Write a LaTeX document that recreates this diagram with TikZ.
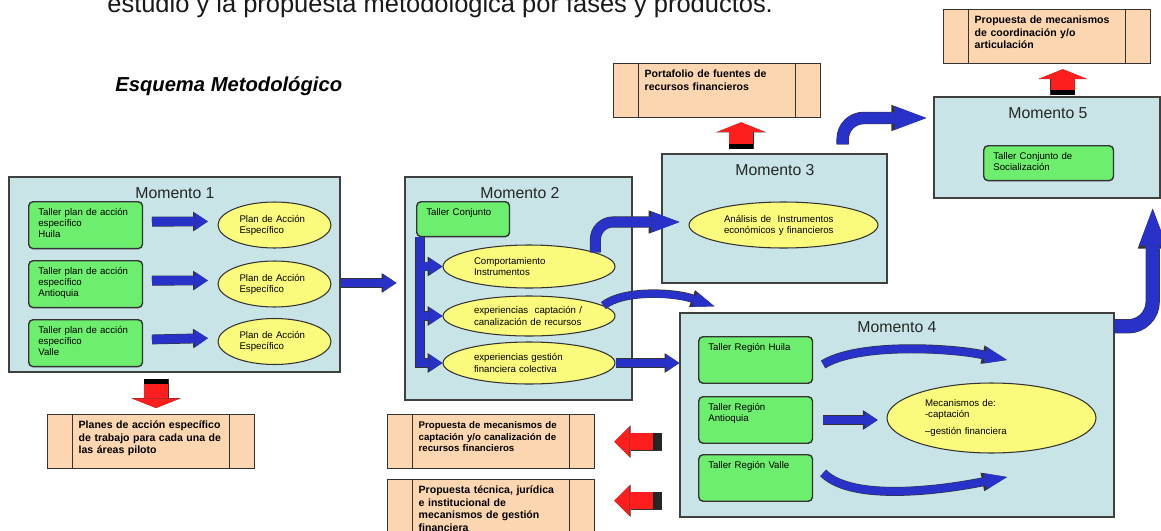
\documentclass[tikz,border=0pt]{standalone}
\usepackage{fontspec}
\setmainfont{Liberation Sans}
\usetikzlibrary{shapes.geometric,arrows.meta,calc}

\definecolor{fondo}{RGB}{200,228,230}
\definecolor{verde}{RGB}{110,238,110}
\definecolor{amarillo}{RGB}{250,250,125}
\definecolor{naranja}{RGB}{252,214,176}
\definecolor{azulf}{RGB}{40,50,200}
\definecolor{rojof}{RGB}{255,30,30}

\newcommand{\txtchico}{\fontsize{5.5pt}{6.3pt}\selectfont}
\newcommand{\txtprod}{\fontsize{6pt}{7.1pt}\selectfont\bfseries}
\newcommand{\txtmom}{\fontsize{9pt}{10pt}\selectfont}

\tikzset{
    momento/.style={draw=black!75, fill=fondo, line width=0.8pt},
    titulo/.style={font=\txtmom, text=black!85, anchor=base, inner sep=0pt},
    taller/.style={draw=black!80, fill=verde, rounded corners=2.5pt, line width=0.8pt,
        font=\txtchico, align=left, anchor=north west, inner xsep=5.5pt, inner ysep=4pt,
        text height=4pt},
    plan/.style={ellipse, draw=black!80, fill=amarillo, line width=0.6pt,
        font=\txtchico, align=left, inner sep=1pt},
    producto/.style={draw=black!80, fill=naranja, line width=0.8pt, font=\txtprod,
        align=left, anchor=north west, text width=2.9cm, inner xsep=0.62cm,
        inner ysep=3pt, text height=5pt, text depth=19.7pt,
        path picture={\draw[black!80, line width=0.8pt]
            ([xshift=0.5cm]path picture bounding box.north west) -- ([xshift=0.5cm]path picture bounding box.south west)
            ([xshift=-0.5cm]path picture bounding box.north east) -- ([xshift=-0.5cm]path picture bounding box.south east);}},
    flecha/.style={azulf, line width=#1,
        -{Triangle[width=0pt 2, length=0pt 1.5, line width=0pt]},
        preaction={draw=black!80, line width=#1+0.6pt,
            -{Triangle[width=0pt 2, length=0pt 1.5, line width=0pt]}}},
    flecha/.default=5pt,
    curva/.style={azulf, line width=#1,
        -{Triangle[width=0pt 2.1, length=0pt 2.8, line width=0pt]},
        preaction={draw=black!80, line width=#1+0.6pt,
            -{Triangle[width=0pt 2.1, length=0pt 2.8, line width=0pt]}}},
    roja/.style={rojof, line width=13.6pt,
        {Rectangle[length=0pt 0.22, width=0pt 1, line width=0pt, color=black]}-{Triangle[width=0pt 2, length=0pt 0.4, line width=0pt]},
        preaction={draw=black!80, line width=14.2pt,
            -{Triangle[width=0pt 2, length=0pt 0.4, line width=0pt]}}},
    rojaizq/.style={rojof, line width=9.7pt,
        {Rectangle[length=0pt 0.55, width=0pt 1, line width=0pt, color=black!85]}-{Triangle[width=0pt 1.8, length=0pt 0.9, line width=0pt]},
        preaction={draw=black!80, line width=10.3pt,
            -{Triangle[width=0pt 1.8, length=0pt 0.9, line width=0pt]}}}
}

\begin{document}
\begin{tikzpicture}[x=0.02cm, y=-0.02cm]
    \useasboundingbox (0,0) rectangle (1161,531);
    \clip (0,0) rectangle (1161,531);

    \node[anchor=base west, inner sep=0pt, font=\fontsize{14.5pt}{17pt}\selectfont, text=black!90](cab) at (107,12) {estudio y la propuesta metodológica por fases y productos.};
    \node[anchor=base west, inner sep=0pt, font=\fontsize{11.5pt}{13pt}\selectfont\bfseries\itshape](esq) at (115,91) {Esquema Metodológico};

    \node[momento, minimum width=6.62cm, minimum height=3.9cm](m1) at (174.5,274.5) {};
    \node[momento, minimum width=4.54cm, minimum height=4.46cm](m2) at (518.5,288.5) {};
    \node[momento, minimum width=4.5cm, minimum height=2.58cm](m3) at (774.5,218.5) {};
    \node[momento, minimum width=8.68cm, minimum height=4.08cm](m4) at (897,415) {};
    \node[momento, minimum width=4.52cm, minimum height=2.02cm](m5) at (1047,147.5) {};

    \node[titulo](m1t) at (175,198) {Momento 1};
    \node[titulo](m2t) at (520,198) {Momento 2};
    \node[titulo](m3t) at (775,175) {Momento 3};
    \node[titulo](m4t) at (897,332) {Momento 4};
    \node[titulo](m5t) at (1048,118) {Momento 5};

    \node[taller, text width=1.89cm, text depth=14.7pt](t1) at (28,201) {Taller plan de acción\\específico\\Huila};
    \node[taller, text width=1.89cm, text depth=14.7pt](t2) at (28,260) {Taller plan de acción\\específico\\Antioquia};
    \node[taller, text width=1.89cm, text depth=14.7pt](t3) at (28,319) {Taller plan de acción\\específico\\Valle};
    \node[plan, minimum width=2.26cm, minimum height=0.92cm, text width=1.4cm](p1) at (274.5,225) {Plan de Acción\\Específico};
    \node[plan, minimum width=2.26cm, minimum height=0.92cm, text width=1.4cm](p2) at (274.5,284) {Plan de Acción\\Específico};
    \node[plan, minimum width=2.26cm, minimum height=0.92cm, text width=1.4cm](p3) at (274.5,341.5) {Plan de Acción\\Específico};

    \node[taller, text width=1.47cm, text depth=7.9pt](tc) at (416,201) {Taller Conjunto};
    \node[plan, minimum width=3.44cm, minimum height=0.86cm, text width=2.2cm](e1) at (529,266.5) {Comportamiento\\Instrumentos};
    \node[plan, minimum width=3.44cm, minimum height=0.8cm, text width=2.2cm](e2) at (529,316) {experiencias~ captación /\\canalización de recursos};
    \node[plan, minimum width=3.44cm, minimum height=0.84cm, text width=2.2cm](e3) at (529,363) {experiencias gestión\\financiera colectiva};

    \node[plan, minimum width=3.78cm, minimum height=0.92cm, text width=2.38cm](an) at (783.5,225) {Análisis de~ Instrumentos\\económicos y financieros};

    \node[taller, text width=1.89cm, text depth=14.5pt](r1) at (698,336) {Taller Región Huila};
    \node[taller, text width=1.89cm, text depth=14.5pt](r2) at (698,396) {Taller Región\\Antioquia};
    \node[taller, text width=1.89cm, text depth=14.5pt](r3) at (698,454) {Taller Región Valle};
    \node[plan, minimum width=4.18cm, minimum height=1.4cm, text width=2.66cm](mec) at (991.5,418) {Mecanismos de:\\-captación\\[3pt]–gestión financiera};

    \node[taller, text width=2.21cm, text depth=7.9pt](ts) at (983,145) {Taller Conjunto de\\Socialización};

    \node[producto](pl) at (47,414) {Planes de acción específico\\de trabajo para cada una de\\las áreas piloto};
    \node[producto](pf) at (613,63) {Portafolio de fuentes de\\recursos financieros};
    \node[producto](pc) at (943,9) {Propuesta de mecanismos\\de coordinación y/o\\articulación};
    \node[producto, font=\fontsize{5.5pt}{6.5pt}\selectfont\bfseries](b1) at (387,414) {Propuesta de mecanismos de\\captación y/o canalización de\\recursos financieros};
    \node[producto](b2) at (387,479) {Propuesta técnica, jurídica\\e institucional de\\mecanismos de gestión\\financiera};

    \coordinate(h1) at (1007,360);
    \coordinate(h2) at (1007,477);

    \draw[flecha, shorten <=5pt, shorten >=5.5pt] ([yshift=2pt]t1.east) -- ([yshift=2pt]p1.west);
    \draw[flecha, shorten <=5pt, shorten >=5.5pt] ([yshift=2pt]t2.east) -- ([yshift=2pt]p2.west);
    \draw[flecha, shorten <=5pt, shorten >=5.5pt] ([yshift=2pt]t3.east) -- ([yshift=2pt]p3.west);
    \draw[flecha, shorten >=4.5pt] ([yshift=-4.8pt]m1.east) -- ([yshift=-4.8pt]m1.east -| m2.west);

    \draw[flecha] ([xshift=2.3pt]tc.south west) |- (e3.west);
    \draw[flecha] ([xshift=4.8pt]tc.south west |- e1.west) -- (e1.west);
    \draw[flecha] ([xshift=4.8pt]tc.south west |- e2.west) -- (e2.west);
    \draw[flecha] (e3.east) -- (e3.east -| m4.west);
    \draw[curva=5.7pt, rounded corners=10pt] (e1.12) |- ($(an.west)+(-9,-3)$);
    \draw[curva=4.2pt] (e2.8) .. controls +(20,-16) and +(-40,-14) .. ($(m4.north west)+(35,-6)$);

    \draw[curva=4.5pt] ($(r1.east)+(10,4.5)$) .. controls +(35,-22) and +(-55,-12) .. (h1);
    \draw[flecha, shorten <=5.7pt, shorten >=5pt] (r2.east) -- (r2.east -| mec.west);
    \draw[curva=4.5pt] ($(r3.east)+(10,-5)$) .. controls +(30,30) and +(-60,12) .. (h2);

    \draw[curva=6.5pt, rounded corners=12pt] ($(m3.north east)+(-45,-9)$) |- ($(m5.west)+(-7,-29.5)$);
    \draw[curva=7.5pt, rounded corners=14pt] ($(m4.north east)+(0,14)$) -| ($(m5.south east)+(-8,10)$);

    \draw[roja, shorten <=3.4pt, shorten >=3.4pt] ([xshift=-10.5pt]m1.south) -- ([xshift=-10.5pt]m1.south |- pl.north);
    \draw[roja, shorten <=2.3pt, shorten >=2.3pt] ([xshift=-19pt]m3.north) -- ([xshift=-19pt]m3.north |- pf.south);
    \draw[roja, shorten <=0.5pt, shorten >=2.8pt] ([xshift=9pt]m5.north) -- ([xshift=9pt]m5.north |- pc.south);
    \draw[rojaizq, shorten <=9.7pt, shorten >=10.8pt] (b1.east -| m4.west) -- (b1.east);
    \draw[rojaizq, shorten <=9.7pt, shorten >=10.8pt] ([yshift=3.4pt]b2.east -| m4.west) -- ([yshift=3.4pt]b2.east);
\end{tikzpicture}
\end{document}
